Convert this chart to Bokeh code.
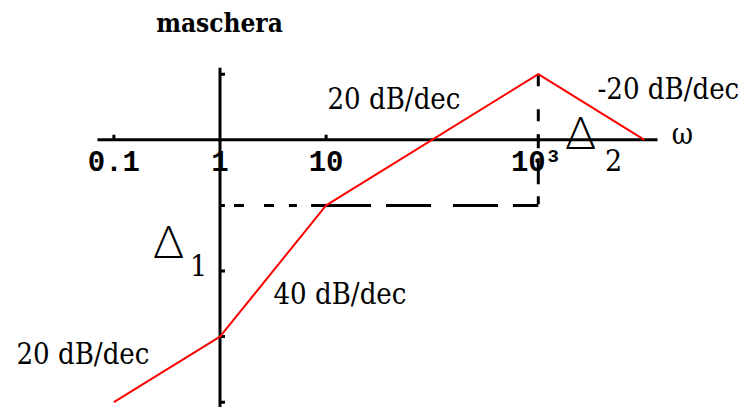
import math

from bokeh.plotting import figure
from bokeh.models import Range1d, Label
from bokeh.embed import file_html
from bokeh.resources import INLINE

# Asymptotic magnitude of the mask (corner frequencies and levels)
omega = [0.1, 1, 10, 1000, 10000]
mag_db = [-80, -60, -20, 20, 0]

# Frequency ticks and their labels
tick_omega = [0.1, 1, 10, 1000]
tick_labels = ["0.1", "1", "10", "10"]
# Magnitude ticks along the vertical axis (dB)
db_ticks = [20, -20, -40, -60, -80]

# Reference levels for the dashed guides
delta1_level = -20
peak_omega = 1000
peak_db = 20

W, H = 746, 407
ORIGIN_X, ORIGIN_Y = 219.5, 139.3   # pixel position of (omega=1, 0 dB)
PX_DECADE = 106.1
PX_DB = 3.28

x_lo = 10 ** (-ORIGIN_X / PX_DECADE)
x_hi = 10 ** ((W - ORIGIN_X) / PX_DECADE)
y_hi = ORIGIN_Y / PX_DB
y_lo = -(H - ORIGIN_Y) / PX_DB

p = figure(width=W, height=H, x_axis_type="log",
           x_range=Range1d(x_lo, x_hi), y_range=Range1d(y_lo, y_hi),
           x_axis_location=None, y_axis_location=None,
           output_backend="svg", toolbar_location=None, min_border=0,
           outline_line_color=None, background_fill_color="white",
           border_fill_color="white")
p.grid.visible = False

# Crossing axes
p.line([0.07, 13300], [0, 0], line_color="black", line_width=3)
p.line([1, 1], [22, -95], line_color="black", line_width=3)
p.ray(x=[w for w in tick_omega if w != 1], y=0, length=5, length_units="screen",
      angle=math.pi / 2, line_color="black", line_width=3)
p.ray(x=1, y=db_ticks, length=5, length_units="screen", angle=0,
      line_color="black", line_width=3)

# Dashed guides
p.line([1, peak_omega], [delta1_level, delta1_level], line_color="black",
       line_width=3, line_dash="1 13 10 20 10 15 8 14 60 15 45 22 45 15 27")
p.line([peak_omega, peak_omega], [peak_db, delta1_level], line_color="black",
       line_width=3, line_dash="12 23 12 13 14 10 26 12 8")

# Mask
p.line(omega, mag_db, line_color="#ff0000", line_width=2)

MONO = "Liberation Mono"
SERIF = "DejaVu Serif Condensed"
DELTA = "Lato Light"
BASE_K = 0.41   # alphabetic baseline shift of Label text, in em


def screen_label(text, x, baseline, size, font=SERIF, align="left", style="normal"):
    p.add_layout(Label(x=x, y=H - baseline + BASE_K * size, x_units="screen",
                       y_units="screen", text=text, text_font=font,
                       text_font_size=f"{size}px", text_font_style=style,
                       text_align=align, text_baseline="alphabetic",
                       text_color="black"))


# Frequency tick labels
offsets = [0, 0, 0, -10]
for w, lab, dx in zip(tick_omega, tick_labels, offsets):
    p.add_layout(Label(x=w, y=H - 172 + BASE_K * 29, x_units="data", y_units="screen",
                       x_offset=dx, text=lab, text_font=MONO,
                       text_font_size="29px", text_font_style="bold",
                       text_align="center", text_baseline="alphabetic",
                       text_color="black"))
p.add_layout(Label(x=1000, y=H - 163 + BASE_K * 19, x_units="data", y_units="screen",
                   x_offset=15, text="3", text_font=MONO, text_font_size="19px",
                   text_font_style="bold", text_align="center",
                   text_baseline="alphabetic", text_color="black"))

screen_label("maschera", 219, 33, 26, style="bold", align="center")
screen_label("20 dB/dec", 327, 110, 29)
screen_label("-20 dB/dec", 597, 100, 29)
screen_label("40 dB/dec", 273, 305, 29)
screen_label("20 dB/dec", 16, 365, 29)
screen_label("\u03c9", 682, 145, 29, align="center")
screen_label("\u0394", 168, 259, 46, font=DELTA, align="center")
screen_label("1", 198, 277, 30, align="center")
screen_label("\u0394", 580, 150, 46, font=DELTA, align="center")
screen_label("2", 613, 172, 30, align="center")

open("out.html", "w").write(file_html(p, INLINE))
